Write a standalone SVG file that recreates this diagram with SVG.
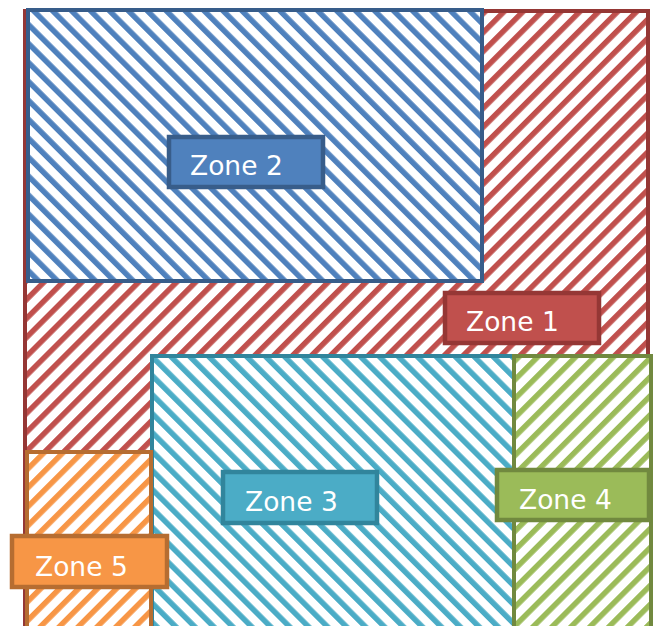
<svg xmlns="http://www.w3.org/2000/svg" width="660" height="626" viewBox="0 0 660 626">
<defs>
<pattern id="hRed" patternUnits="userSpaceOnUse" width="13.4" height="13.4" patternTransform="rotate(45)"><rect width="13.4" height="13.4" fill="#ffffff"/><rect x="0" y="0" width="5.5" height="13.4" fill="#C0504D"/></pattern>
<pattern id="hBlue" patternUnits="userSpaceOnUse" width="13.4" height="13.4" patternTransform="rotate(-45)"><rect width="13.4" height="13.4" fill="#ffffff"/><rect x="0" y="0" width="5.5" height="13.4" fill="#4F81BD"/></pattern>
<pattern id="hCyan" patternUnits="userSpaceOnUse" width="13.4" height="13.4" patternTransform="rotate(-45)"><rect width="13.4" height="13.4" fill="#ffffff"/><rect x="0" y="0" width="5.5" height="13.4" fill="#4BACC6"/></pattern>
<pattern id="hGreen" patternUnits="userSpaceOnUse" width="13.4" height="13.4" patternTransform="rotate(45)"><rect width="13.4" height="13.4" fill="#ffffff"/><rect x="0" y="0" width="5.5" height="13.4" fill="#9BBB59"/></pattern>
<pattern id="hOrange" patternUnits="userSpaceOnUse" width="13.4" height="13.4" patternTransform="rotate(45)"><rect width="13.4" height="13.4" fill="#ffffff"/><rect x="0" y="0" width="5.5" height="13.4" fill="#F79646"/></pattern>
</defs>
<style>
.zone{stroke-width:4}
.lbl{stroke-width:4.5}
.t{font-family:"DejaVu Sans",Verdana,sans-serif;font-size:26.5px;fill:#ffffff}
</style>
<rect width="660" height="626" fill="#ffffff"/>
<g id="zone1">
<rect class="zone" x="25" y="11" width="623" height="620" fill="url(#hRed)" stroke="#953735"/>
</g>
<g id="zone2">
<rect class="zone" x="28" y="10" width="454" height="271" fill="url(#hBlue)" stroke="#385D8A"/>
</g>
<g id="zone3">
<rect class="zone" x="152" y="356" width="362" height="275" fill="url(#hCyan)" stroke="#31859C"/>
</g>
<g id="zone4">
<rect class="zone" x="514" y="356" width="137" height="275" fill="url(#hGreen)" stroke="#71893F"/>
</g>
<g id="zone5">
<rect class="zone" x="27" y="452" width="124" height="180" fill="url(#hOrange)" stroke="#B66D31"/>
</g>
<g id="connectors"></g>
<g id="label-zone2">
<rect class="lbl" x="169" y="137" width="154" height="50" fill="#4F81BD" stroke="#385D8A"/>
<text class="t" x="190" y="175">Zone 2</text>
</g>
<g id="label-zone1">
<rect class="lbl" x="445" y="293" width="154" height="50" fill="#C0504D" stroke="#953735"/>
<text class="t" x="466" y="331">Zone 1</text>
</g>
<g id="label-zone3">
<rect class="lbl" x="223" y="472" width="154" height="51" fill="#4BACC6" stroke="#31859C"/>
<text class="t" x="245" y="511">Zone 3</text>
</g>
<g id="label-zone4">
<rect class="lbl" x="497" y="470" width="152" height="50" fill="#9BBB59" stroke="#71893F"/>
<text class="t" x="519" y="509">Zone 4</text>
</g>
<g id="label-zone5">
<rect class="lbl" x="12" y="536" width="155" height="51" fill="#F79646" stroke="#B66D31"/>
<text class="t" x="35" y="576">Zone 5</text>
</g>
</svg>
